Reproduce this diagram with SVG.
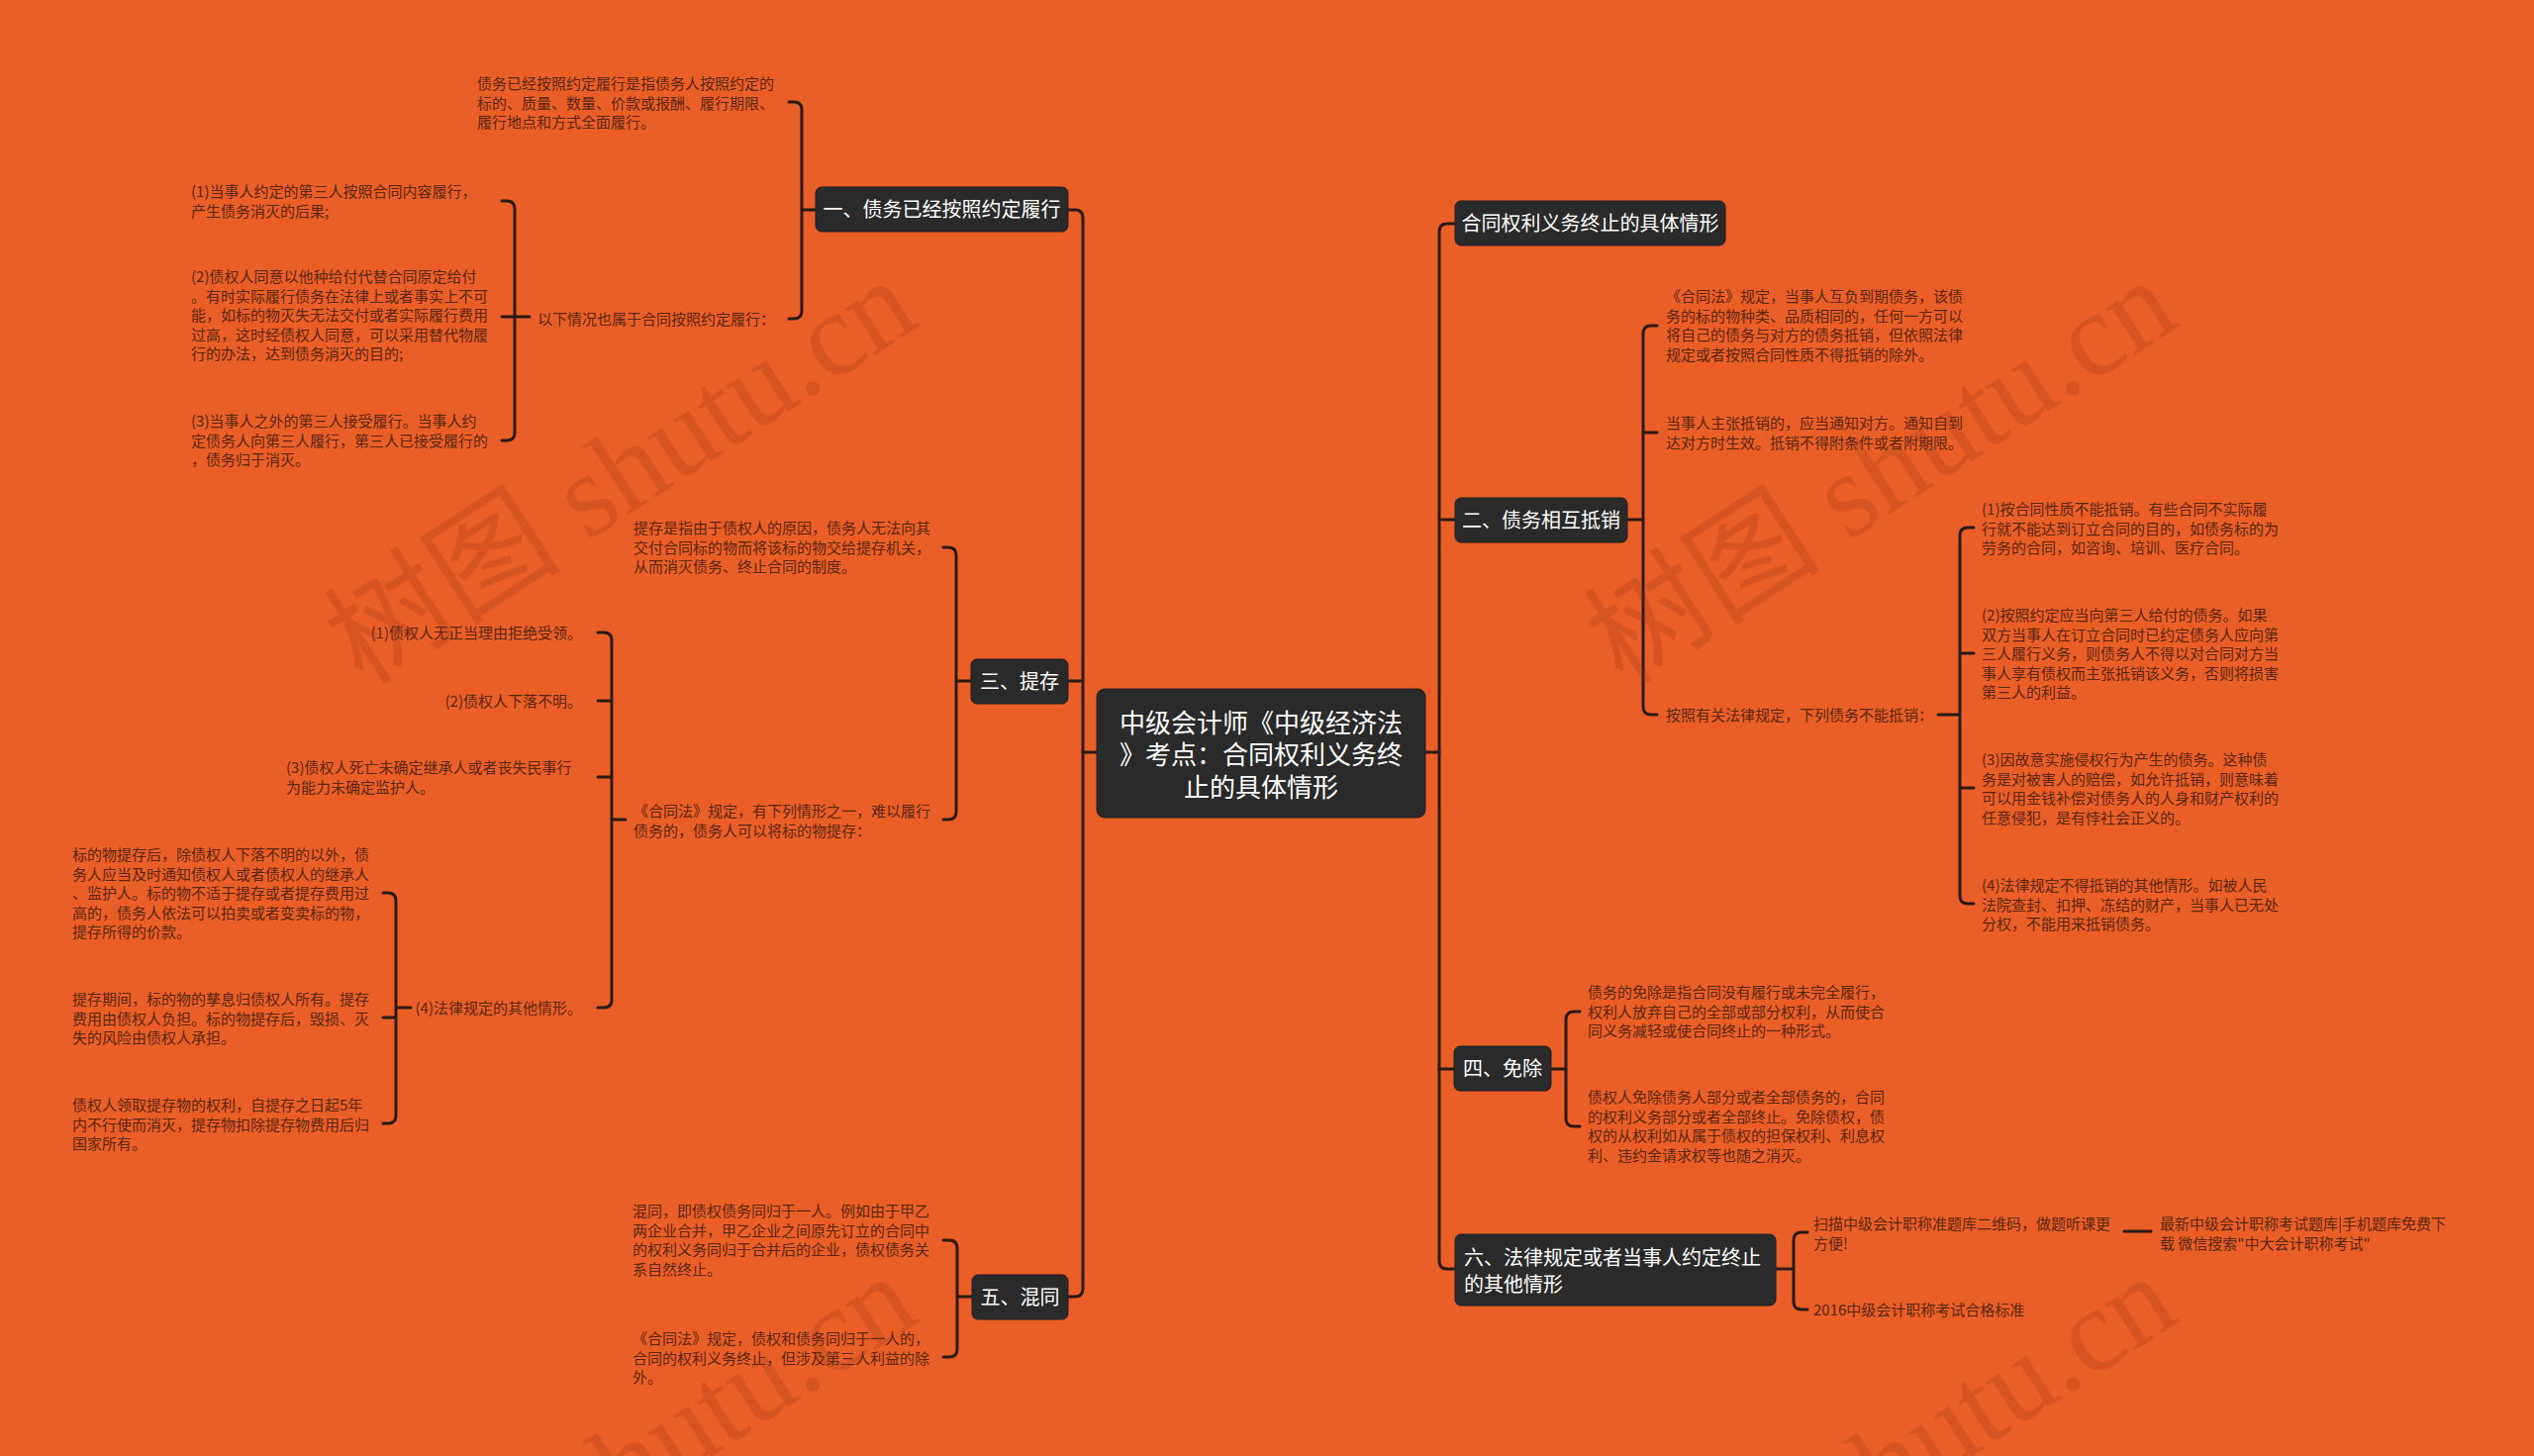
<svg xmlns="http://www.w3.org/2000/svg" width="2560" height="1471" viewBox="0 0 2560 1471">
<style>
.leaf{font-family:"Noto Sans CJK SC","Noto Sans",sans-serif;font-size:15px;fill:#5B2612;}
.nt{font-family:"Noto Sans CJK SC","Noto Sans",sans-serif;font-size:20px;fill:#ffffff;}
.ct{font-family:"Noto Sans CJK SC","Noto Sans",sans-serif;font-size:26px;fill:#ffffff;text-anchor:middle;}
.box{fill:#2a2a2a;stroke:#1f1f1f;stroke-width:1;}
.ln{fill:none;stroke:#2a1a12;stroke-width:3;stroke-linecap:round;stroke-linejoin:round;}
.wm{font-family:"Liberation Serif","Noto Sans CJK SC",serif;font-size:120px;fill:#8a3418;opacity:0.2;}
</style>
<rect x="0" y="0" width="2560" height="1471" fill="#EA5E28"/>

<g id="connectors">
<path class="ln" d="M1079,212 H1086 Q1094,212 1094,220 V1302 Q1094,1310 1086,1310 H1079"/>
<path class="ln" d="M1079,688 H1094 M1094,760 H1108"/>
<path class="ln" d="M1470,226 H1462 Q1454,226 1454,234 V1274 Q1454,1282 1462,1282 H1470"/>
<path class="ln" d="M1454,525 H1470 M1454,1080 H1469 M1440,760 H1454"/>
<path class="ln" d="M797,103 H802 Q810,103 810,111 V314 Q810,322 802,322 H797 M810,212 H824"/>
<path class="ln" d="M507,203 H512 Q520,203 520,211 V437 Q520,445 512,445 H507 M507,320 H535"/>
<path class="ln" d="M953,553 H958 Q966,553 966,561 V820 Q966,828 958,828 H953 M966,688 H981"/>
<path class="ln" d="M604,639 H610 Q618,639 618,647 V1010 Q618,1018 610,1018 H604 M604,708 H618 M604,785 H618 M618,828 H632"/>
<path class="ln" d="M387,902 H392 Q400,902 400,910 V1127 Q400,1135 392,1135 H387 M387,1028 H400 M400,1018 H415"/>
<path class="ln" d="M953,1253 H959 Q967,1253 967,1261 V1363 Q967,1371 959,1371 H953 M967,1310 H982"/>
<path class="ln" d="M1674,329 H1668 Q1660,329 1660,337 V714 Q1660,722 1668,722 H1674 M1660,437 H1674 M1644,525 H1660"/>
<path class="ln" d="M1994,533 H1988 Q1980,533 1980,541 V905 Q1980,913 1988,913 H1994 M1980,660 H1994 M1980,796 H1994 M1958,722 H1980"/>
<path class="ln" d="M1596,1022 H1590 Q1582,1022 1582,1030 V1130 Q1582,1138 1590,1138 H1596 M1567,1080 H1582"/>
<path class="ln" d="M1826,1245 H1820 Q1812,1245 1812,1253 V1315 Q1812,1323 1820,1323 H1826 M1794,1282 H1812"/>
<path class="ln" d="M2146,1244 H2173"/>
</g>

<g id="root">
<rect class="box" x="1108" y="696" width="332" height="130" rx="8"/>
<text class="ct" x="1274" y="740">中级会计师《中级经济法</text>
<text class="ct" x="1274" y="772">》考点：合同权利义务终</text>
<text class="ct" x="1274" y="805">止的具体情形</text>
</g>

<g id="n1">
<rect class="box" x="824" y="189" width="255" height="45" rx="6"/>
<text class="nt" x="951.5" y="219" text-anchor="middle">一、债务已经按照约定履行</text>
</g>
<g id="n1a"><text class="leaf"><tspan x="482" y="90">债务已经按照约定履行是指债务人按照约定的</tspan><tspan x="482" y="109.5">标的、质量、数量、价款或报酬、履行期限、</tspan><tspan x="482" y="129">履行地点和方式全面履行。</tspan></text></g>
<g id="n1b"><text class="leaf" x="543" y="328">以下情况也属于合同按照约定履行：</text></g>
<g id="n1b1"><text class="leaf"><tspan x="193" y="199">(1)当事人约定的第三人按照合同内容履行，</tspan><tspan x="193" y="218.5">产生债务消灭的后果;</tspan></text></g>
<g id="n1b2"><text class="leaf"><tspan x="193" y="285">(2)债权人同意以他种给付代替合同原定给付</tspan><tspan x="193" y="304.5">。有时实际履行债务在法律上或者事实上不可</tspan><tspan x="193" y="324">能，如标的物灭失无法交付或者实际履行费用</tspan><tspan x="193" y="343.5">过高，这时经债权人同意，可以采用替代物履</tspan><tspan x="193" y="363">行的办法，达到债务消灭的目的;</tspan></text></g>
<g id="n1b3"><text class="leaf"><tspan x="193" y="431">(3)当事人之外的第三人接受履行。当事人约</tspan><tspan x="193" y="450.5">定债务人向第三人履行，第三人已接受履行的</tspan><tspan x="193" y="470">，债务归于消灭。</tspan></text></g>

<g id="n3">
<rect class="box" x="981" y="666" width="98" height="45" rx="6"/>
<text class="nt" x="1030" y="696" text-anchor="middle">三、提存</text>
</g>
<g id="n3a"><text class="leaf"><tspan x="640" y="539">提存是指由于债权人的原因，债务人无法向其</tspan><tspan x="640" y="558.5">交付合同标的物而将该标的物交给提存机关，</tspan><tspan x="640" y="578">从而消灭债务、终止合同的制度。</tspan></text></g>
<g id="n3b"><text class="leaf"><tspan x="640" y="825">《合同法》规定，有下列情形之一，难以履行</tspan><tspan x="640" y="844.5">债务的，债务人可以将标的物提存：</tspan></text></g>
<g id="n3b1"><text class="leaf" x="588" y="645" text-anchor="end">(1)债权人无正当理由拒绝受领。</text></g>
<g id="n3b2"><text class="leaf" x="588" y="714" text-anchor="end">(2)债权人下落不明。</text></g>
<g id="n3b3"><text class="leaf"><tspan x="289" y="781">(3)债权人死亡未确定继承人或者丧失民事行</tspan><tspan x="289" y="800.5">为能力未确定监护人。</tspan></text></g>
<g id="n3b4"><text class="leaf" x="588" y="1024" text-anchor="end">(4)法律规定的其他情形。</text></g>
<g id="n3b4a"><text class="leaf"><tspan x="73" y="869">标的物提存后，除债权人下落不明的以外，债</tspan><tspan x="73" y="888.5">务人应当及时通知债权人或者债权人的继承人</tspan><tspan x="73" y="908">、监护人。标的物不适于提存或者提存费用过</tspan><tspan x="73" y="927.5">高的，债务人依法可以拍卖或者变卖标的物，</tspan><tspan x="73" y="947">提存所得的价款。</tspan></text></g>
<g id="n3b4b"><text class="leaf"><tspan x="73" y="1015">提存期间，标的物的孳息归债权人所有。提存</tspan><tspan x="73" y="1034.5">费用由债权人负担。标的物提存后，毁损、灭</tspan><tspan x="73" y="1054">失的风险由债权人承担。</tspan></text></g>
<g id="n3b4c"><text class="leaf"><tspan x="73" y="1122">债权人领取提存物的权利，自提存之日起5年</tspan><tspan x="73" y="1141.5">内不行使而消灭，提存物扣除提存物费用后归</tspan><tspan x="73" y="1161">国家所有。</tspan></text></g>

<g id="n5">
<rect class="box" x="982" y="1288" width="97" height="45" rx="6"/>
<text class="nt" x="1030.5" y="1318" text-anchor="middle">五、混同</text>
</g>
<g id="n5a"><text class="leaf"><tspan x="639" y="1229">混同，即债权债务同归于一人。例如由于甲乙</tspan><tspan x="639" y="1248.5">两企业合并，甲乙企业之间原先订立的合同中</tspan><tspan x="639" y="1268">的权利义务同归于合并后的企业，债权债务关</tspan><tspan x="639" y="1287.5">系自然终止。</tspan></text></g>
<g id="n5b"><text class="leaf"><tspan x="639" y="1358">《合同法》规定，债权和债务同归于一人的，</tspan><tspan x="639" y="1377.5">合同的权利义务终止，但涉及第三人利益的除</tspan><tspan x="639" y="1397">外。</tspan></text></g>

<g id="r0">
<rect class="box" x="1470" y="203" width="273" height="45" rx="6"/>
<text class="nt" x="1606.5" y="233" text-anchor="middle">合同权利义务终止的具体情形</text>
</g>

<g id="n2">
<rect class="box" x="1470" y="503" width="174" height="45" rx="6"/>
<text class="nt" x="1557" y="533" text-anchor="middle">二、债务相互抵销</text>
</g>
<g id="n2a"><text class="leaf"><tspan x="1683" y="305">《合同法》规定，当事人互负到期债务，该债</tspan><tspan x="1683" y="324.5">务的标的物种类、品质相同的，任何一方可以</tspan><tspan x="1683" y="344">将自己的债务与对方的债务抵销，但依照法律</tspan><tspan x="1683" y="363.5">规定或者按照合同性质不得抵销的除外。</tspan></text></g>
<g id="n2b"><text class="leaf"><tspan x="1683" y="433">当事人主张抵销的，应当通知对方。通知自到</tspan><tspan x="1683" y="452.5">达对方时生效。抵销不得附条件或者附期限。</tspan></text></g>
<g id="n2c"><text class="leaf" x="1683" y="728">按照有关法律规定，下列债务不能抵销：</text></g>
<g id="n2c1"><text class="leaf"><tspan x="2002" y="520">(1)按合同性质不能抵销。有些合同不实际履</tspan><tspan x="2002" y="539.5">行就不能达到订立合同的目的，如债务标的为</tspan><tspan x="2002" y="559">劳务的合同，如咨询、培训、医疗合同。</tspan></text></g>
<g id="n2c2"><text class="leaf"><tspan x="2002" y="627">(2)按照约定应当向第三人给付的债务。如果</tspan><tspan x="2002" y="646.5">双方当事人在订立合同时已约定债务人应向第</tspan><tspan x="2002" y="666">三人履行义务，则债务人不得以对合同对方当</tspan><tspan x="2002" y="685.5">事人享有债权而主张抵销该义务，否则将损害</tspan><tspan x="2002" y="705">第三人的利益。</tspan></text></g>
<g id="n2c3"><text class="leaf"><tspan x="2002" y="773">(3)因故意实施侵权行为产生的债务。这种债</tspan><tspan x="2002" y="792.5">务是对被害人的赔偿，如允许抵销，则意味着</tspan><tspan x="2002" y="812">可以用金钱补偿对债务人的人身和财产权利的</tspan><tspan x="2002" y="831.5">任意侵犯，是有悖社会正义的。</tspan></text></g>
<g id="n2c4"><text class="leaf"><tspan x="2002" y="900">(4)法律规定不得抵销的其他情形。如被人民</tspan><tspan x="2002" y="919.5">法院查封、扣押、冻结的财产，当事人已无处</tspan><tspan x="2002" y="939">分权，不能用来抵销债务。</tspan></text></g>

<g id="n4">
<rect class="box" x="1469" y="1057" width="98" height="45" rx="6"/>
<text class="nt" x="1518" y="1087" text-anchor="middle">四、免除</text>
</g>
<g id="n4a"><text class="leaf"><tspan x="1604" y="1008">债务的免除是指合同没有履行或未完全履行，</tspan><tspan x="1604" y="1027.5">权利人放弃自己的全部或部分权利，从而使合</tspan><tspan x="1604" y="1047">同义务减轻或使合同终止的一种形式。</tspan></text></g>
<g id="n4b"><text class="leaf"><tspan x="1604" y="1114">债权人免除债务人部分或者全部债务的，合同</tspan><tspan x="1604" y="1133.5">的权利义务部分或者全部终止。免除债权，债</tspan><tspan x="1604" y="1153">权的从权利如从属于债权的担保权利、利息权</tspan><tspan x="1604" y="1172.5">利、违约金请求权等也随之消灭。</tspan></text></g>

<g id="n6">
<rect class="box" x="1470" y="1247" width="324" height="72" rx="6"/>
<text class="nt"><tspan x="1479" y="1278">六、法律规定或者当事人约定终止</tspan><tspan x="1479" y="1305">的其他情形</tspan></text>
</g>
<g id="n6a"><text class="leaf"><tspan x="1832" y="1242">扫描中级会计职称准题库二维码，做题听课更</tspan><tspan x="1832" y="1261.5">方便!</tspan></text></g>
<g id="n6a1"><text class="leaf"><tspan x="2182" y="1242">最新中级会计职称考试题库|手机题库免费下</tspan><tspan x="2182" y="1261.5">载 微信搜索"中大会计职称考试"</tspan></text></g>
<g id="n6b"><text class="leaf" x="1832" y="1329">2016中级会计职称考试合格标准</text></g>

<g id="watermarks">
<text class="wm" transform="translate(367,694) rotate(-33)">树图 shutu.cn</text>
<text class="wm" transform="translate(1640,694) rotate(-33)">树图 shutu.cn</text>
<text class="wm" transform="translate(367,1700) rotate(-33)">树图 shutu.cn</text>
<text class="wm" transform="translate(1640,1700) rotate(-33)">树图 shutu.cn</text>
</g>
</svg>
